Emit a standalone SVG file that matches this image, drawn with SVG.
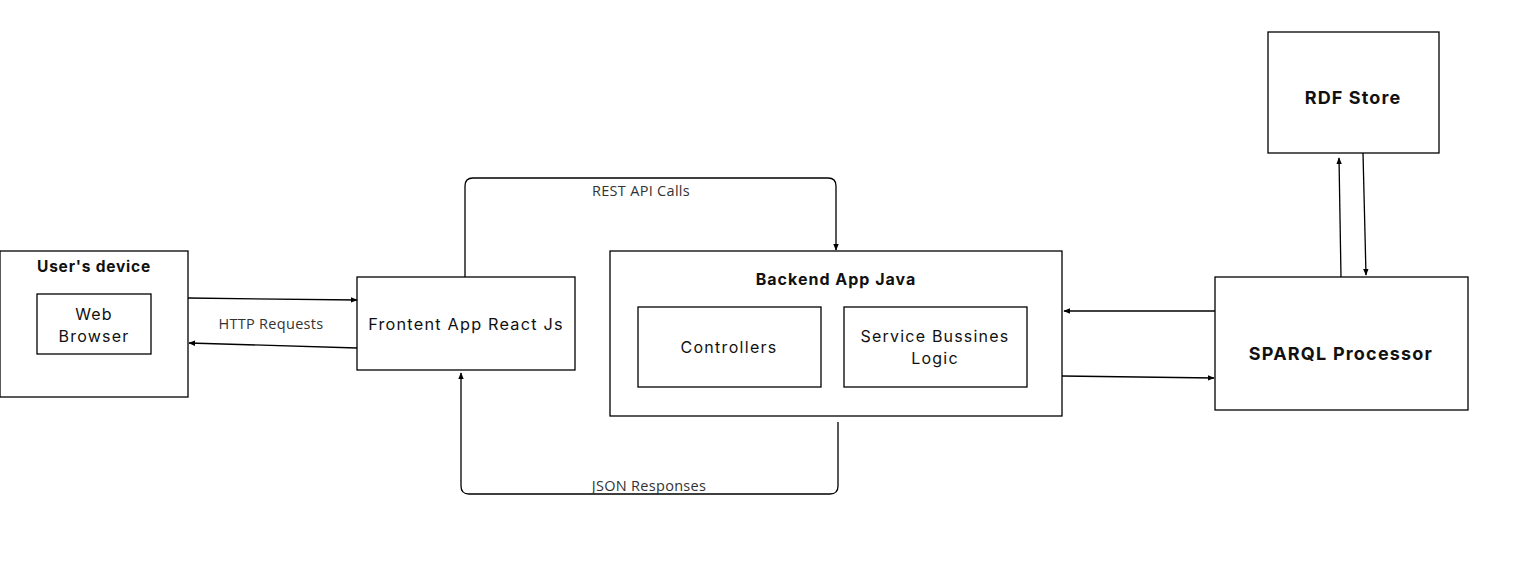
<svg xmlns="http://www.w3.org/2000/svg" width="1522" height="575" viewBox="0 0 1522 575">
<style>
.box{fill:#fff;stroke:#000;stroke-width:1.3}
.t{font-family:Inter,"Open Sans",sans-serif;fill:#111;text-anchor:middle;font-size:16px;letter-spacing:1.2px}
.b{font-weight:700}
.lbl{font-family:"Open Sans","Liberation Sans",sans-serif;font-size:14.5px;letter-spacing:0.3px;fill:#333;text-anchor:middle}
.e{fill:none;stroke:#000;stroke-width:1.3}
</style>
<defs>
<marker id="ah" viewBox="0 0 10 10" refX="9" refY="5" markerWidth="7" markerHeight="7" orient="auto" markerUnits="userSpaceOnUse">
<path d="M0,1 L10,5 L0,9 Z" fill="#000"/>
</marker>
</defs>
<rect width="1522" height="575" fill="#fff"/>
<g id="users-device">
<rect class="box" x="0" y="251" width="188" height="146"/>
<text class="t b" x="94" y="272" style="font-size:15.5px;letter-spacing:0.8px">User's device</text>
</g>
<g id="web-browser">
<rect class="box" x="37" y="294" width="114" height="60"/>
<text class="t" x="94" y="320">Web</text>
<text class="t" x="94" y="342">Browser</text>
</g>
<g id="frontend">
<rect class="box" x="357" y="277" width="218" height="93"/>
<text class="t" x="466" y="330" style="font-size:16.3px">Frontent App React Js</text>
</g>
<g id="backend">
<rect class="box" x="610" y="251" width="452" height="165"/>
<text class="t b" x="836" y="285" style="font-size:16px;letter-spacing:1px">Backend App Java</text>
</g>
<g id="controllers">
<rect class="box" x="638" y="307" width="183" height="80"/>
<text class="t" x="729" y="353" style="letter-spacing:1.3px">Controllers</text>
</g>
<g id="service">
<rect class="box" x="844" y="307" width="183" height="80"/>
<text class="t" x="935" y="342">Service Bussines</text>
<text class="t" x="935" y="364">Logic</text>
</g>
<g id="sparql">
<rect class="box" x="1215" y="277" width="253" height="133"/>
<text class="t b" x="1341" y="360" style="font-size:18px;letter-spacing:1.2px">SPARQL Processor</text>
</g>
<g id="rdf-store">
<rect class="box" x="1268" y="32" width="171" height="121"/>
<text class="t b" x="1353" y="104" style="font-size:18px;letter-spacing:1.1px">RDF Store</text>
</g>
<g id="connectors">
<path class="e" d="M188,298 L357,300" marker-end="url(#ah)"/>
<path class="e" d="M357,348 L189,343" marker-end="url(#ah)"/>
<text class="lbl" x="271" y="329">HTTP Requests</text>
<path class="e" d="M465,277 L465,186 Q465,178 473,178 L828,178 Q836,178 836,186 L836,250" marker-end="url(#ah)"/>
<text class="lbl" x="641" y="196">REST API Calls</text>
<path class="e" d="M838,422 L838,486 Q838,494 830,494 L469,494 Q461,494 461,486 L461,373" marker-end="url(#ah)"/>
<text class="lbl" x="649" y="491">JSON Responses</text>
<path class="e" d="M1215,311 L1064,311" marker-end="url(#ah)"/>
<path class="e" d="M1062,376 L1214,378" marker-end="url(#ah)"/>
<path class="e" d="M1341,277 L1339,158" marker-end="url(#ah)"/>
<path class="e" d="M1363,153 L1366,275" marker-end="url(#ah)"/>
</g>
</svg>
